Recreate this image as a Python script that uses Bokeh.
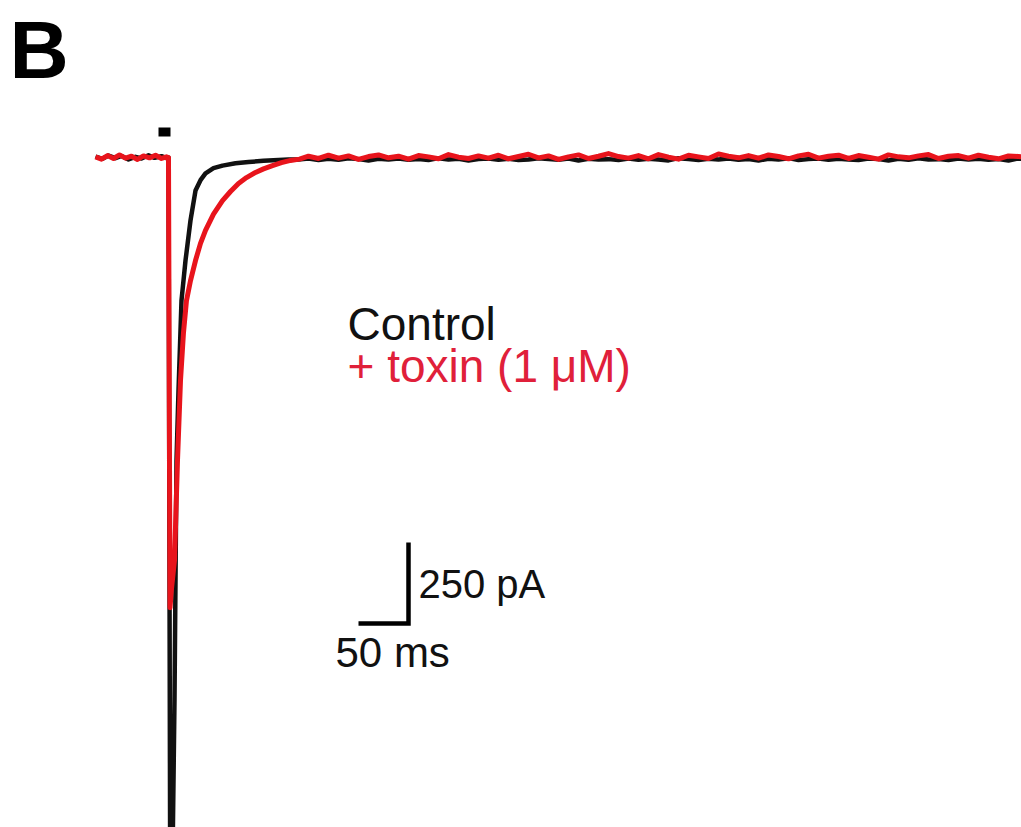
from bokeh.plotting import figure
from bokeh.models import Range1d
from bokeh.embed import file_html
from bokeh.resources import INLINE
from bokeh.core.properties import value

# ---- data (time in ms relative to stimulus, current in pA) ----
control_t_early = [-73, -66, -60, -53, -47, -40, -33, -27, -20, -14, -7, -2, 0, 2, 4.5, 6, 8,
                   10, 13, 17, 22, 27, 32, 37, 45, 54, 67, 80, 95, 110, 120]
control_i_early = [3, -4, 6, -2, 5, -6, 2, -3, 7, -1, 4, -2, 0, -2600, -2050, -1676, -935,
                   -720, -441, -318, -194, -102, -70, -49, -33, -25, -18, -14, -10, -8, -6]
control_i_tail = [-6, -3, -8, -4, -7, -2, -5, -9, -4, -6, -3, -7, -5, -8, -2, -6, -4, -9, -5, -3,
                  -7, -4, -8, -6, -2, -5, -7, -3, -9, -4, -6, -5, -8, -3, -7, -4, -6, -9, -2, -5,
                  -8, -4, -6, -3, -7, -5, -9, -4, -6, -2, -8, -5, -3, -7, -4, -6, -8, -3, -5, -9,
                  -4, -7, -2, -6, -5, -8, -3, -6, -4, -7, -5, -9, -3, -6, -5, -4]
control_tail_start = 130

toxin_t_early = [-73, -67, -61, -55, -49, -43, -37, -31, -25, -19, -13, -7, -2, 0, 1.5, 3, 6, 9,
                 12, 15, 18, 22, 27, 32, 37, 45, 54, 62, 70, 78, 87, 95, 104, 113, 122, 131]
toxin_i_early = [2, -5, 6, -3, 8, -2, 4, -6, 5, -1, 7, -3, 2, 0, -1390, -1330, -1244, -935,
                 -688, -540, -441, -380, -318, -265, -225, -175, -133, -105, -80, -62, -46, -35,
                 -25, -16, -9, -5]
toxin_i_tail = [4, -3, 7, -2, 5, -6, 3, 8, -1, 4, -5, 6, 2, -4, 9, 1, -3, 5, -2, 7, -4, 3, 10, -1,
                5, -6, 2, 8, -3, 4, 12, 3, -2, 6, -4, 9, 1, -5, 7, 2, -3, 11, 4, -1, 6, -2, 8, 3,
                -4, 5, 10, -2, 4, 7, -3, 6, 1, -5, 8, 2, -1, 5, 9, -3, 4, 6, -2, 7, 1, -4, 5, 3,
                0, 4, -2, 5]
toxin_tail_start = 140
sample_step = 10

stim_start, stim_end = -10, 2         # ms, application marker
stim_low, stim_high = 65, 93

scalebar_t = [190, 240, 240]          # 50 ms
scalebar_i = [-1438, -1438, -1188]    # 250 pA

labels = ["Control", "+ toxin (1 \u03bcM)"]
scale_labels = ["250 pA", "50 ms"]
panel_label = "B"

control_t = control_t_early + [control_tail_start + sample_step * k for k in range(len(control_i_tail))]
control_i = control_i_early + control_i_tail
toxin_t = toxin_t_early + [toxin_tail_start + sample_step * k for k in range(len(toxin_i_tail))]
toxin_i = toxin_i_early + toxin_i_tail

BLACK = "#111111"
RED = "#e8141c"
TEXT_RED = "#e0203a"

p = figure(width=1021, height=827, output_backend="svg", toolbar_location=None,
           x_range=Range1d(-168, 853), y_range=Range1d(-2067.9, 484.6),
           min_border=0)
p.axis.visible = False
p.grid.visible = False
p.outline_line_color = None
p.background_fill_color = "white"
p.border_fill_color = "white"

p.line(control_t, control_i, line_color=BLACK, line_width=4.5, line_join="round")
p.line(toxin_t, toxin_i, line_color=RED, line_width=5, line_join="round")

p.quad(left=[stim_start], right=[stim_end], bottom=[stim_low], top=[stim_high],
       fill_color="black", line_color=None)

p.line(scalebar_t, scalebar_i, line_color="black", line_width=4.5, line_join="miter")

font = value("Liberation Sans")
p.text(x=[179], y=[-514], text=[labels[0]], text_color="#111111", text_font=font,
       text_font_size="46px", text_baseline="alphabetic", text_align="left")
p.text(x=[179], y=[-643], text=[labels[1]], text_color=TEXT_RED, text_font=font,
       text_font_size="46px", text_baseline="alphabetic", text_align="left")
p.text(x=[250], y=[-1317], text=[scale_labels[0]], text_color="#111111", text_font=font,
       text_font_size="40px", text_baseline="alphabetic", text_align="left")
p.text(x=[167], y=[-1528], text=[scale_labels[1]], text_color="#111111", text_font=font,
       text_font_size="42px", text_baseline="alphabetic", text_align="left")
p.text(x=[-159], y=[333], text=[panel_label], text_color="black", text_font=font,
       text_font_size="82px", text_font_style="bold", text_baseline="alphabetic",
       text_align="left")

open("out.html", "w").write(file_html(p, INLINE))
